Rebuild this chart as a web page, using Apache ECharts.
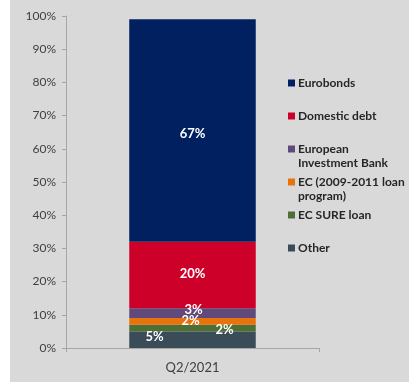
<!DOCTYPE html>
<html>
<head>
<meta charset="utf-8">
<script src="https://cdn.jsdelivr.net/npm/echarts@6/dist/echarts.min.js"></script>
<style>
  html, body { margin: 0; padding: 0; background: #ffffff; }
  #chart { width: 409px; height: 383px; }
</style>
</head>
<body>
<div id="chart"></div>
<script>
// Debt structure by creditor, share of total (%)
var categories = ['Q2/2021'];
var seriesNames = ['Other', 'EC SURE loan', 'EC (2009-2011 loan program)', 'European Investment Bank', 'Domestic debt', 'Eurobonds'];
var other = [5];
var ecSure = [2];
var ec2009 = [2];
var eib = [3];
var domestic = [20];
var eurobonds = [67];
var yTicks = [0, 10, 20, 30, 40, 50, 60, 70, 80, 90, 100];

var values = [other, ecSure, ec2009, eib, domestic, eurobonds];
var colors = ['#3a4c58', '#4d6e34', '#e8720c', '#604a7b', '#cc0029', '#002060'];
// label nudges so the thin segments stay readable
var labelOffsets = [[-38, -3], [32, 2], [-2, -1], [1, -3], [0, -1], [0, 3]];

var font = 'Lato, "Open Sans", "Liberation Sans", sans-serif';

var series = seriesNames.map(function (name, i) {
  return {
    name: name,
    type: 'bar',
    stack: 'total',
    barWidth: '50%',
    data: values[i],
    itemStyle: { color: colors[i] },
    label: {
      show: true,
      position: 'inside',
      offset: labelOffsets[i],
      formatter: '{c}%',
      color: '#ffffff',
      fontFamily: font,
      fontWeight: 'bold',
      fontSize: 13
    },
    emphasis: { disabled: true }
  };
});

// legend, top entry first, each entry in a fixed-height slot
var legendLabels = ['Eurobonds', 'Domestic debt', 'European\nInvestment Bank', 'EC (2009-2011 loan\nprogram)', 'EC SURE loan', 'Other'];
var legendColors = colors.slice().reverse();
var legendGraphics = [];
legendLabels.forEach(function (txt, i) {
  var y = 83 + i * 33;
  legendGraphics.push({
    type: 'rect',
    shape: { x: 288, y: y - 3.5, width: 7, height: 7 },
    style: { fill: legendColors[i] },
    silent: true
  });
  legendGraphics.push({
    type: 'text',
    x: 298,
    y: y - 7.5,
    style: {
      text: txt,
      fill: '#262626',
      font: 'bold 12px ' + font,
      lineHeight: 14.5,
      verticalAlign: 'top'
    },
    silent: true
  });
});

var chart = echarts.init(document.getElementById('chart'), null, { renderer: 'canvas' });
chart.setOption({
  animation: false,
  backgroundColor: '#ffffff',
  graphic: [{
    type: 'rect',
    z: -10,
    shape: { x: 10, y: 0, width: 399, height: 382 },
    style: { fill: '#d9d9d9' },
    silent: true
  }].concat(legendGraphics),
  grid: { left: 66, right: 90, top: 16, bottom: 35, containLabel: false },
  xAxis: {
    type: 'category',
    data: categories,
    axisLine: { lineStyle: { color: '#a6a6a6', width: 1 } },
    axisTick: { show: true, alignWithLabel: false, length: 4, lineStyle: { color: '#a6a6a6' } },
    axisLabel: { color: '#404040', fontFamily: font, fontSize: 13, margin: 13 }
  },
  yAxis: {
    type: 'value',
    min: 0,
    max: 100,
    interval: 10,
    axisLine: { show: true, lineStyle: { color: '#a6a6a6', width: 1 } },
    axisTick: { show: true, length: 4, lineStyle: { color: '#a6a6a6' } },
    splitLine: { show: false },
    axisLabel: {
      color: '#404040',
      fontFamily: font,
      fontSize: 12,
      margin: 10,
      formatter: function (v) { return yTicks.indexOf(v) >= 0 ? v + '%' : ''; }
    }
  },
  series: series
});
</script>
</body>
</html>
